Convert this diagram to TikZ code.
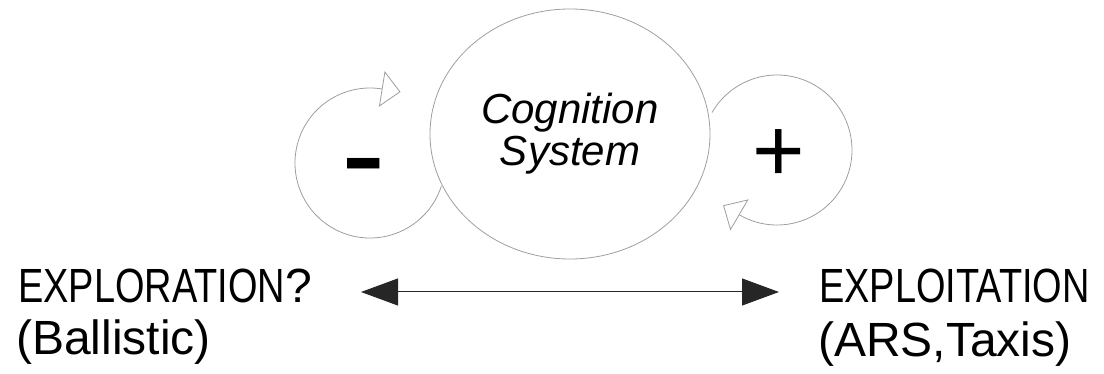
\documentclass[tikz,border=0pt]{standalone}
\usepackage{fontspec}
\setmainfont{Liberation Sans}
\newfontfamily\narrowfont[FakeStretch=0.79]{Liberation Sans}
\usetikzlibrary{arrows.meta,shapes.geometric,calc}
\begin{document}
\begin{tikzpicture}[x=1pt,y=-1pt,
  loopline/.style={draw=black!38, line width=0.8pt},
  openhead/.style={-{Triangle[open,length=19pt,width=36pt,fill=white]}},
  bigtext/.style={font=\fontsize{48}{48}\selectfont, anchor=base west, inner sep=0pt},
  signtext/.style={inner sep=0pt, anchor=center},
  dblarrow/.style={{Triangle[length=37pt,width=27pt]}-{Triangle[length=37pt,width=27pt]}, line width=1pt, draw=black!85, fill=black},
]
\useasboundingbox (0,0) rectangle (1104,374);
% central ellipse
\node[draw=black!38, line width=0.8pt, ellipse, minimum width=280pt, minimum height=250pt, inner sep=0pt,
      align=center, font=\fontsize{42}{42}\selectfont\itshape] (cog) at (570,134) {Cognition\\System};
% left loop (negative)
\coordinate (lc) at (370,163);
\draw[loopline, openhead] ($(lc)+(18:75)$) arc[start angle=18, end angle=279, radius=75] -- ++(18.8,3);
\node[signtext, font=\fontsize{88}{88}\selectfont\bfseries] (minus) at (363.5,172) {\scalebox{1.45}[1]{-}};
% right loop (positive)
\coordinate (rc) at (777,150);
\draw[loopline, openhead] ($(rc)+(210:75)$) arc[start angle=210, end angle=480, radius=75] -- ++(-16.4,-9.6);
\node[signtext, font=\fontsize{90}{90}\selectfont] (plus) at (779,156) {+};
% texts
\node[bigtext] (explo) at (18,302) {{\narrowfont EXPLORATION}?};
\node[bigtext] (ball) at (16,355) {(Ballistic)};
\node[bigtext] (exploit) at (819,303) {\narrowfont EXPLOITATION};
\node[bigtext] (ars) at (818,356) {(ARS,Taxis)};
% double arrow
\coordinate (la) at (361,292);
\coordinate (ra) at (779,292);
\draw[dblarrow] (la) -- (ra);
\end{tikzpicture}
\end{document}
